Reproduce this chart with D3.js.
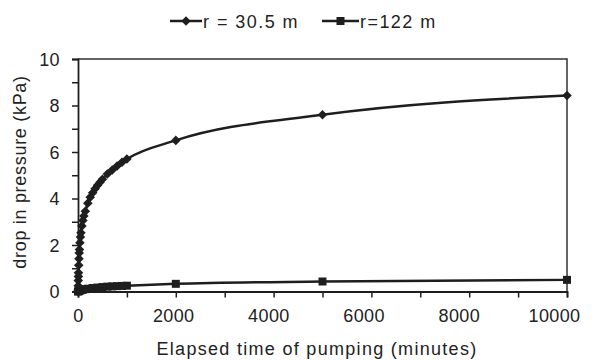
<!DOCTYPE html>
<html><head><meta charset="utf-8">
<script src="https://cdn.jsdelivr.net/npm/d3@7"></script>
<style>
html,body{margin:0;padding:0;background:#fff;}
text{font-family:"Liberation Sans",Arial,sans-serif;fill:#222;}
</style></head>
<body><svg id="c" width="594" height="360"></svg>
<script>
// Data
const timeNear = [0,2,4,6,8,10,15,20,25,30,40,50,60,80,100,120,150,200,250,300,350,400,450,500,600,700,800,900,1000,2000,5000,10000];
const dropNear = [0,0.06,0.25,0.47,0.65,0.81,1.13,1.41,1.66,1.81,2.1,2.34,2.53,2.82,3.05,3.25,3.45,3.8,4.05,4.25,4.42,4.57,4.7,4.83,5.05,5.23,5.4,5.56,5.7,6.5,7.6,8.43];
const timeFar = [0,10,20,30,50,80,100,150,200,300,400,500,600,700,800,900,1000,2000,5000,10000];
const dropFar = [0,0.01,0.02,0.03,0.05,0.07,0.08,0.1,0.12,0.15,0.17,0.19,0.21,0.22,0.23,0.24,0.25,0.33,0.43,0.5];
const seriesNames = ["r = 30.5 m","r=122 m"];
const xTickValues = [0,2000,4000,6000,8000,10000];
const yTickValues = [0,2,4,6,8,10];
const xTitle = "Elapsed time of pumping (minutes)";
const yTitle = "drop in pressure (kPa)";

const ink = "#1e1e1e";
const svg = d3.select("#c");
const x = d3.scaleLinear().domain([0,10000]).range([78,567]);
const y = d3.scaleLinear().domain([0,10]).range([291.5,59]);

// frame (top & right)
svg.append("path").attr("d",`M${x(0)},${y(10)}H${x(10000)}V${y(0)}`)
  .attr("fill","none").attr("stroke","#333").attr("stroke-width",1.5);

// x axis
const xa = svg.append("g").attr("transform",`translate(0,${y(0)})`)
  .call(d3.axisBottom(x).tickValues(d3.range(0,10001,1000)).tickSize(6).tickFormat(d=>xTickValues.includes(d)?d:""));
// y axis
const ya = svg.append("g").attr("transform",`translate(${x(0)},0)`)
  .call(d3.axisLeft(y).tickValues(d3.range(0,11,1)).tickSize(6).tickFormat(d=>yTickValues.includes(d)?d:""));
[xa,ya].forEach(g=>{
  g.select(".domain").attr("stroke",ink).attr("stroke-width",1.8);
  g.selectAll(".tick line").attr("stroke",ink).attr("stroke-width",1.5);
  g.selectAll(".tick text").attr("font-size",18).attr("letter-spacing","0.4px").attr("fill","#222")
   .attr("font-family","Liberation Sans, Arial, sans-serif");
});
xa.selectAll(".tick text").attr("dy","1.2em").attr("dx",d=>-d/10000*13);
ya.selectAll(".tick text").attr("dx","-9").attr("dy","0.36em");

// titles
svg.append("text").attr("x",317).attr("y",355).attr("text-anchor","middle")
  .attr("font-size",18).attr("letter-spacing","1.3px").text(xTitle);
svg.append("text").attr("transform","translate(26,172) rotate(-90)").attr("text-anchor","middle")
  .attr("font-size",18).attr("letter-spacing","0.7px").text(yTitle);

const line = d3.line().x(d=>x(d[0])).y(d=>y(d[1])).curve(d3.curveMonotoneX);
const near = timeNear.map((t,i)=>[t,dropNear[i]]);
const far = timeFar.map((t,i)=>[t,dropFar[i]]);
const diamond = d3.symbol().type(d3.symbolDiamond2).size(58);
const square = d3.symbol().type(d3.symbolSquare).size(64);

[[far,square],[near,diamond]].forEach(([data,sym])=>{
  svg.append("path").datum(data).attr("d",line).attr("fill","none").attr("stroke",ink).attr("stroke-width",2.5);
  svg.append("g").selectAll("path").data(data).join("path")
    .attr("transform",d=>`translate(${x(d[0])},${y(d[1])})`).attr("d",sym).attr("fill",ink);
});

// legend
const leg = [
  {name:seriesNames[0], x1:170, x2:202, sym:diamond, tx:203},
  {name:seriesNames[1], x1:322, x2:359, sym:square, tx:360}
];
leg.forEach(l=>{
  svg.append("line").attr("x1",l.x1).attr("x2",l.x2).attr("y1",21).attr("y2",21).attr("stroke",ink).attr("stroke-width",2.5);
  svg.append("path").attr("transform",`translate(${(l.x1+l.x2)/2},21)`).attr("d",l.sym).attr("fill",ink);
  svg.append("text").attr("x",l.tx).attr("y",28).attr("font-size",18).attr("letter-spacing","1.45px").text(l.name);
});
</script></body></html>
